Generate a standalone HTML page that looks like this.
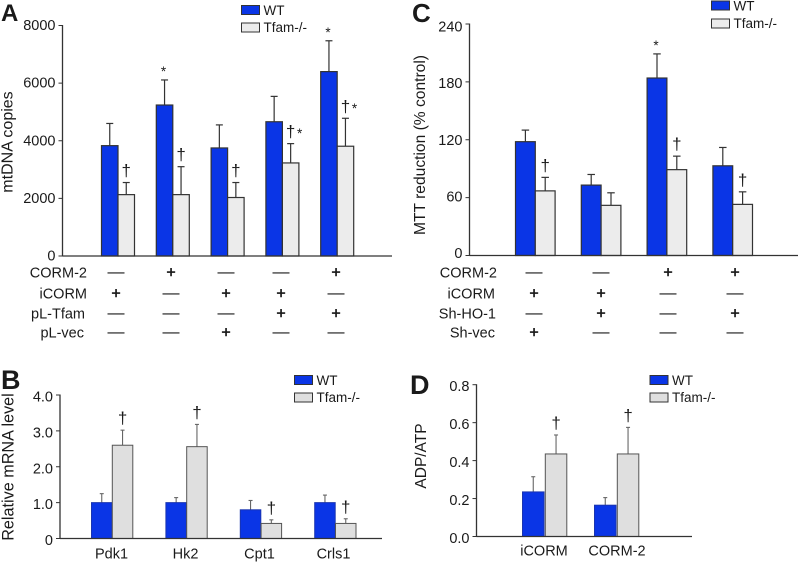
<!DOCTYPE html>
<html>
<head>
<meta charset="utf-8">
<title>Four panel bar charts</title>
<style>
html,body{margin:0;padding:0;background:#fff;width:800px;height:563px;overflow:hidden}
svg{display:block;filter:blur(0.3px)}
text{font-family:"Liberation Sans",sans-serif;fill:#1a1a1a}
</style>
</head>
<body>
<svg id="figure" width="800" height="563" viewBox="0 0 800 563" xmlns="http://www.w3.org/2000/svg"></svg>
<script>
// Panel A
const aWT = [3830, 5240, 3750, 4660, 6400];
const aTfam = [2130, 2130, 2030, 3230, 3810];
const aWTErr = [4600, 6110, 4550, 5540, 7470];
const aTfamErr = [2550, 3100, 2550, 3900, 4780];
const aTicks = ["0", "2000", "4000", "6000", "8000"];
const aWTStars = [0, 1, 0, 0, 1];
const aTfamDaggers = [1, 1, 1, 1, 1];
const aTfamStars = [0, 0, 0, 1, 1];
const aRowLabels = ["CORM-2", "iCORM", "pL-Tfam", "pL-vec"];
const aRows = [["—", "+", "—", "—", "+"], ["+", "—", "+", "+", "—"], ["—", "—", "—", "+", "+"], ["—", "—", "+", "—", "—"]];

// Panel B
const bCategories = ["Pdk1", "Hk2", "Cpt1", "Crls1"];
const bWT = [1.0, 1.0, 0.8, 1.0];
const bTfam = [2.6, 2.56, 0.42, 0.42];
const bWTErr = [1.25, 1.14, 1.06, 1.21];
const bTfamErr = [3.02, 3.18, 0.52, 0.55];
const bTicks = ["0", "1.0", "2.0", "3.0", "4.0"];
const bTfamDaggers = [1, 1, 1, 1];

// Panel C
const cWT = [118, 73, 184, 93];
const cTfam = [67, 52, 89, 53];
const cWTErr = [130, 84, 209, 112];
const cTfamErr = [81, 65, 103, 66];
const cTicks = ["0", "60", "120", "180", "240"];
const cWTStars = [0, 0, 1, 0];
const cTfamDaggers = [1, 0, 1, 1];
const cRowLabels = ["CORM-2", "iCORM", "Sh-HO-1", "Sh-vec"];
const cRows = [["—", "—", "+", "+"], ["+", "+", "—", "—"], ["—", "+", "—", "+"], ["+", "—", "—", "—"]];

// Panel D
const dCategories = ["iCORM", "CORM-2"];
const dWT = [0.235, 0.165];
const dTfam = [0.435, 0.435];
const dWTErr = [0.315, 0.205];
const dTfamErr = [0.535, 0.575];
const dTicks = ["0.0", "0.2", "0.4", "0.6", "0.8"];
const dTfamDaggers = [1, 1];

const NS = "http://www.w3.org/2000/svg";
const fig = document.getElementById("figure");

function node(tag, attrs, parent, content) {
  const el = document.createElementNS(NS, tag);
  for (const k in attrs) el.setAttribute(k, attrs[k]);
  if (content !== undefined) el.textContent = content;
  (parent || fig).appendChild(el);
  return el;
}

function line(parent, x1, y1, x2, y2, stroke, w) {
  return node("line", {x1: x1, y1: y1, x2: x2, y2: y2, stroke: stroke, "stroke-width": w}, parent);
}

function drawPanel(p) {
  const g = node("g", {}, fig);
  
  

  const maxV = p.max;
  const y = v => p.y0 + (p.yTop - p.y0) * v / maxV;
  const xWT = i => p.x0 + p.step * i;
  const xTf = i => xWT(i) + p.bw + p.gap;

  const letter = node("text", {x: p.letterX, y: p.letterY, "font-size": p.letterSize, "font-weight": "bold", fill: "#000"}, g, p.letter);
  
  

  const title = node("text", {transform: "translate(" + p.titleX + "," + p.titleY + ") rotate(-90)", "text-anchor": "middle", "font-size": p.titleSize}, g, p.title);
  
  

  p.ticks.forEach((t, i) => {
    const frac = i / (p.ticks.length - 1);
    const v = maxV * frac;
    const tk = line(g, p.axisX - 4, y(v), p.axisX, y(v), "#333", 1);
    
    
    const off = p.labelOffBottom + (p.labelOffTop - p.labelOffBottom) * frac;
    const lb = node("text", {x: p.axisX - 7, y: y(v) + 5 + off, "text-anchor": "end", "font-size": 14.5}, g, t);
    
    
  });

  p.wt.forEach((v, i) => {
    const cx = xWT(i) + p.bw / 2;
    const cap = p.capW / 2;
    line(g, cx, y(p.wtErr[i]), cx, y(v), p.errColor, p.errW);
    line(g, cx - cap, y(p.wtErr[i]), cx + cap, y(p.wtErr[i]), p.errColor, p.errW);
    const r = node("rect", {x: xWT(i), y: y(v), width: p.bw, height: p.y0 - y(v), fill: "#0a35e6", stroke: p.wtStroke, "stroke-width": p.barStroke}, g);
    
    
    if (p.wtStars && p.wtStars[i]) {
      const s = node("text", {x: cx - 1, y: y(p.wtErr[i]) - 4, "text-anchor": "middle", "font-size": 13.5}, g, "*");
      
      
    }
  });

  p.tf.forEach((v, i) => {
    const cx = xTf(i) + p.bw / 2;
    const cap = p.capW / 2;
    line(g, cx, y(p.tfErr[i]), cx, y(v), p.errColor, p.errW);
    line(g, cx - cap, y(p.tfErr[i]), cx + cap, y(p.tfErr[i]), p.errColor, p.errW);
    const r = node("rect", {x: xTf(i), y: y(v), width: p.bw, height: p.y0 - y(v), fill: p.tfFill, stroke: p.tfStroke, "stroke-width": p.barStroke}, g);
    
    
    if (p.tfDaggers[i]) {
      const d = node("text", {x: cx, y: y(p.tfErr[i]) - 6.5, "text-anchor": "middle", "font-size": 17}, g, "†");
      
      
    }
    if (p.tfStars && p.tfStars[i]) {
      const s = node("text", {x: cx + 9, y: y(p.tfErr[i]) - 5.5, "text-anchor": "middle", "font-size": 13.5}, g, "*");
      
      
    }
  });

  const yAxis = line(g, p.axisX, p.yTop - 0.5, p.axisX, p.y0 + 0.5, "#333", 1.3);
  
  
  const xAxis = line(g, p.axisX, p.y0, p.axisEnd, p.y0, "#333", 1.3);
  
  

  if (p.categories) {
    p.categories.forEach((c, i) => {
      const t = node("text", {x: p.catX(i), y: p.catY, "text-anchor": "middle", "font-size": 14.5}, g, c);
      
      
    });
  }

  if (p.rows) {
    p.rows.forEach((row, r) => {
      const lb = node("text", {x: p.rowLabelX[r], y: p.rowY[r] + 5.5, "text-anchor": "end", "font-size": 14.5}, g, p.rowLabels[r]);
      
      
      row.forEach((s, i) => {
        const tx = p.rowX0 + p.rowStep * i;
        const plus = s === "+";
        const t = node("text", {x: tx, y: p.rowY[r] + (plus ? 5.5 : 5), "text-anchor": "middle", "font-size": plus ? 16 : 17, stroke: plus ? "#1a1a1a" : "none", "stroke-width": plus ? 0.5 : 0}, g, s);
        
        
      });
    });
  }

  const lg = node("g", {}, g);
  
  
  node("rect", {x: p.lx, y: p.ly, width: 18, height: 9, fill: "#0a35e6", stroke: "#333", "stroke-width": 1}, lg);
  node("text", {x: p.lx + 22, y: p.ly + 9.5, "font-size": 13.5}, lg, "WT");
  node("rect", {x: p.lx, y: p.ly + p.lgap, width: 18, height: 9, fill: p.tfFill, stroke: "#333", "stroke-width": 1}, lg);
  node("text", {x: p.lx + 22, y: p.ly + p.lgap + 9, "font-size": 13.5}, lg, "Tfam-/-");
}

drawPanel({
  name: "panel-a", letter: "A", letterX: 1, letterY: 21, letterSize: 24,
  title: "mtDNA copies", titleX: 12.5, titleY: 142, titleSize: 16,
  max: 8000, y0: 256, yTop: 25.5, axisX: 62.5, axisEnd: 392, labelOffTop: -0.5, labelOffBottom: -0.5,
  ticks: aTicks, wt: aWT, tf: aTfam, wtErr: aWTErr, tfErr: aTfamErr,
  wtStars: aWTStars, tfDaggers: aTfamDaggers, tfStars: aTfamStars,
  x0: 101.5, step: 54.8, bw: 16.5, gap: 0, capW: 7, errW: 1.2, errColor: "#333",
  tfFill: "#ececec", tfStroke: "#333", wtStroke: "#333", barStroke: 1.2,
  rows: aRows, rowLabels: aRowLabels, rowLabelX: [87, 87, 85, 84], rowY: [272, 293, 313, 332], rowX0: 116, rowStep: 55,
  lx: 241.5, ly: 5.5, lgap: 17.5
});

drawPanel({
  name: "panel-c", letter: "C", letterX: 412, letterY: 22, letterSize: 26,
  title: "MTT reduction (% control)", titleX: 425, titleY: 145, titleSize: 15.6,
  max: 240, y0: 255.5, yTop: 24, axisX: 469.5, axisEnd: 798, labelOffTop: 2.5, labelOffBottom: -2.5,
  ticks: cTicks, wt: cWT, tf: cTfam, wtErr: cWTErr, tfErr: cTfamErr,
  wtStars: cWTStars, tfDaggers: cTfamDaggers,
  x0: 515.5, step: 65.8, bw: 19.8, gap: 0, capW: 7.5, errW: 1.2, errColor: "#333",
  tfFill: "#ececec", tfStroke: "#333", wtStroke: "#333", barStroke: 1.2,
  rows: cRows, rowLabels: cRowLabels, rowLabelX: [497, 495, 496, 495], rowY: [272, 293, 313, 332], rowX0: 534, rowStep: 67,
  lx: 711.5, ly: 1, lgap: 18
});

drawPanel({
  name: "panel-b", letter: "B", letterX: 1, letterY: 389, letterSize: 27,
  title: "Relative mRNA level", titleX: 13.5, titleY: 467, titleSize: 16.2,
  max: 4.0, y0: 538.5, yTop: 395, axisX: 60, axisEnd: 382, labelOffTop: 1.5, labelOffBottom: 1.5,
  ticks: bTicks, wt: bWT, tf: bTfam, wtErr: bWTErr, tfErr: bTfamErr,
  tfDaggers: bTfamDaggers,
  x0: 91.5, step: 74.4, bw: 20.5, gap: 0.3, capW: 4, errW: 1.1, errColor: "#666",
  tfFill: "#dfdfdf", tfStroke: "#555", wtStroke: "#1a35b0", barStroke: 1,
  categories: bCategories, catX: i => 111.5 + 74 * i, catY: 558.5,
  lx: 294.5, ly: 375.5, lgap: 17.5
});

drawPanel({
  name: "panel-d", letter: "D", letterX: 410, letterY: 394, letterSize: 27,
  title: "ADP/ATP", titleX: 426, titleY: 456, titleSize: 15.5,
  max: 0.8, y0: 536.5, yTop: 384.7, axisX: 476.5, axisEnd: 692, labelOffTop: 1.5, labelOffBottom: 1.5,
  ticks: dTicks, wt: dWT, tf: dTfam, wtErr: dWTErr, tfErr: dTfamErr,
  tfDaggers: dTfamDaggers,
  x0: 522.5, step: 72, bw: 21.5, gap: 1.3, capW: 4, errW: 1.1, errColor: "#666",
  tfFill: "#dfdfdf", tfStroke: "#555", wtStroke: "#1a35b0", barStroke: 1,
  categories: dCategories, catX: i => 544 + 73 * i, catY: 555.5,
  lx: 650, ly: 375.5, lgap: 17.5
});
</script>
</body>
</html>
